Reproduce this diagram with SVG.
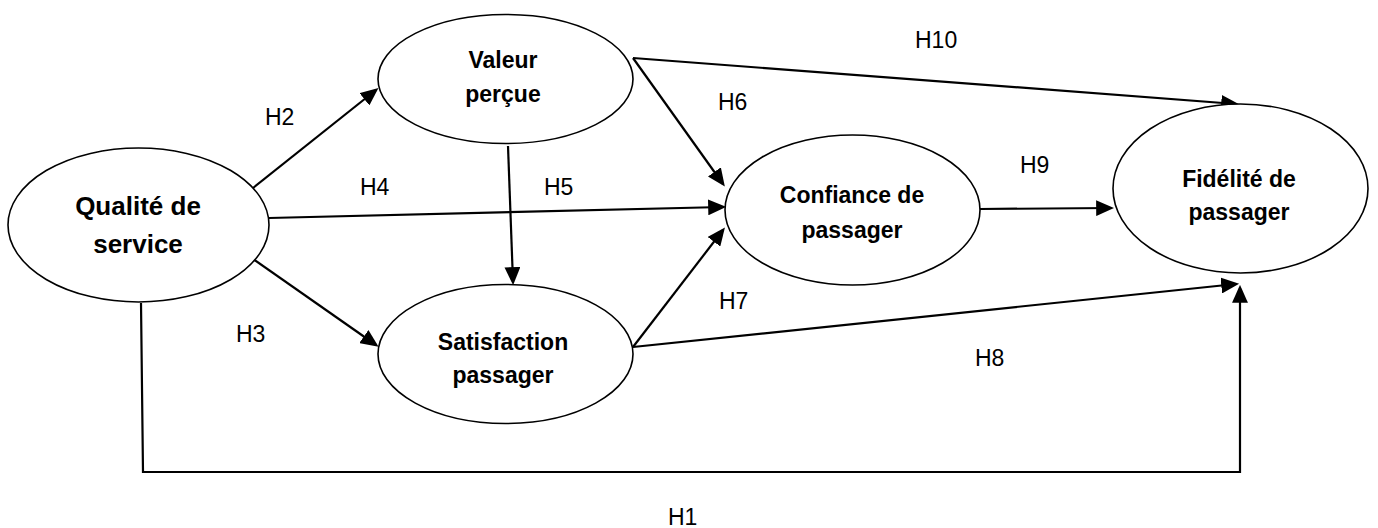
<svg xmlns="http://www.w3.org/2000/svg" width="1378" height="528" viewBox="0 0 1378 528">
  <style>
    .node ellipse { fill: #ffffff; stroke: #000000; stroke-width: 1.6; }
    .node text { font-family: "Liberation Sans", Arial, sans-serif; font-weight: bold; font-size: 23px; fill: #000000; text-anchor: middle; }
    .edges path { fill: none; stroke: #000000; stroke-width: 2.2; }
    .lbl { font-family: "Liberation Sans", Arial, sans-serif; font-size: 23px; fill: #000000; }
  </style>
  <defs>
    <marker id="arrow" markerUnits="userSpaceOnUse" markerWidth="18" markerHeight="16" viewBox="0 0 17 15" refX="14" refY="7.5" orient="auto">
      <path d="M0,0 L17,7.5 L0,15 z" fill="#000000"/>
    </marker>
  </defs>

  <rect x="0" y="0" width="1378" height="528" fill="#ffffff"/>

  <!-- connectors -->
  <g id="connectors" class="edges">
    <path id="e-h2" d="M253,188 L376,90" marker-end="url(#arrow)"/>
    <path id="e-h3" d="M253,259 L376,345" marker-end="url(#arrow)"/>
    <path id="e-h4" d="M269,218 L723,207" marker-end="url(#arrow)"/>
    <path id="e-h5" d="M508,146 L513,282" marker-end="url(#arrow)"/>
    <path id="e-h6" d="M633,58 L723,184" marker-end="url(#arrow)"/>
    <path id="e-h10" d="M633,58 L1236,104" marker-end="url(#arrow)"/>
    <path id="e-h7" d="M633,347 L723,230" marker-end="url(#arrow)"/>
    <path id="e-h8" d="M633,347 L1236,284" marker-end="url(#arrow)"/>
    <path id="e-h9" d="M980,209 L1111,208" marker-end="url(#arrow)"/>
    <path id="e-h1" d="M141,303 L143,472 L1240,472 L1240,288" marker-end="url(#arrow)"/>
  </g>

  <!-- nodes -->
  <g id="qualite" class="node">
    <ellipse cx="138.5" cy="225" rx="130.5" ry="77"/>
    <text x="138" y="215" style="font-size:26px">Qualité de</text>
    <text x="138" y="253" style="font-size:26px">service</text>
  </g>
  <g id="valeur" class="node">
    <ellipse cx="505.5" cy="79" rx="127.5" ry="64.5"/>
    <text x="503" y="68">Valeur</text>
    <text x="503" y="102">perçue</text>
  </g>
  <g id="satisfaction" class="node">
    <ellipse cx="505.5" cy="354" rx="127.5" ry="69.5"/>
    <text x="503" y="350">Satisfaction</text>
    <text x="503" y="383">passager</text>
  </g>
  <g id="confiance" class="node">
    <ellipse cx="852.5" cy="210" rx="127.5" ry="75"/>
    <text x="852" y="203">Confiance de</text>
    <text x="852" y="238">passager</text>
  </g>
  <g id="fidelite" class="node">
    <ellipse cx="1240.5" cy="188.5" rx="127.5" ry="84.5"/>
    <text x="1239" y="187">Fidélité de</text>
    <text x="1239" y="220">passager</text>
  </g>

  <!-- hypothesis labels -->
  <g id="labels">
    <text class="lbl" x="265" y="125">H2</text>
    <text class="lbl" x="360" y="195">H4</text>
    <text class="lbl" x="544" y="195">H5</text>
    <text class="lbl" x="236" y="342">H3</text>
    <text class="lbl" x="718" y="110">H6</text>
    <text class="lbl" x="719" y="309">H7</text>
    <text class="lbl" x="915" y="48">H10</text>
    <text class="lbl" x="1020" y="173">H9</text>
    <text class="lbl" x="975" y="366">H8</text>
    <text class="lbl" x="668" y="525">H1</text>
  </g>
</svg>
